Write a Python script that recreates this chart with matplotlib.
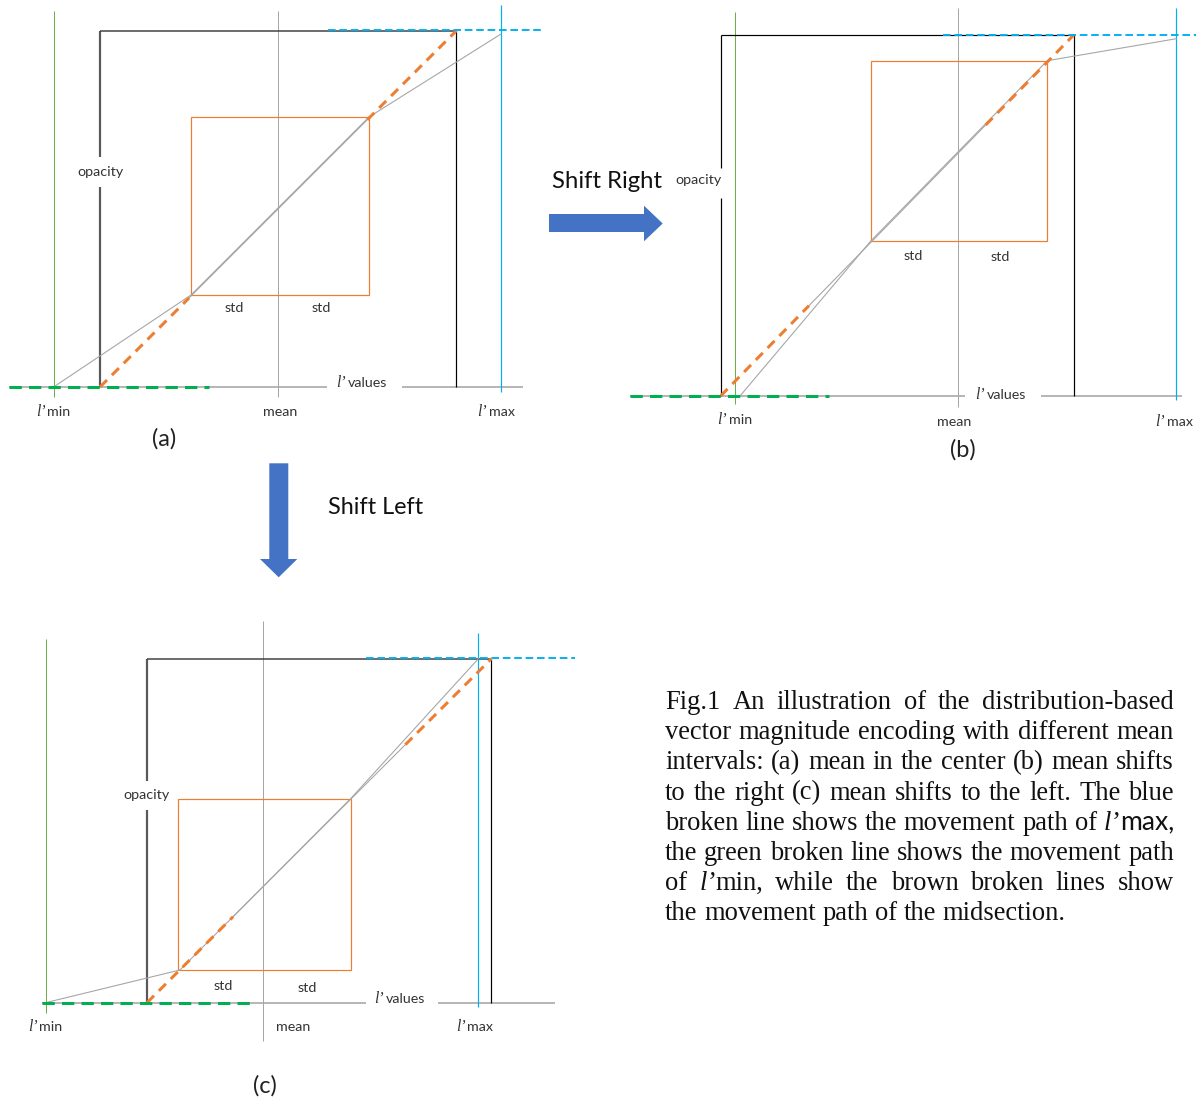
import matplotlib
matplotlib.use('Agg')
import matplotlib.pyplot as plt
from matplotlib.patches import Polygon, Rectangle

W, H = 1197, 1101
PX = 0.72  # points per pixel at dpi 100

# ---------------- data (pixel layout of the three schematic panels) ----------------
PANELS = ['(a)', '(b)', '(c)']
LMIN_X = [53.6, 735.2, 45.5]
MEAN_X = [278.0, 958.0, 263.3]
LMAX_X = [501.0, 1176.4, 478.4]
FRAME_L = [100.0, 720.6, 147.0]
FRAME_R = [456.4, 1074.0, 491.4]
FRAME_T = [30.7, 34.7, 658.7]
AXIS_Y = [387.0, 396.0, 1002.7]
BOX_L = [191.0, 870.5, 178.3]
BOX_R = [369.0, 1047.3, 350.6]
BOX_T = [117.0, 60.7, 798.7]
BOX_B = [295.0, 241.3, 970.0]

GREEN_V = [(10.7, 397.0), (11.7, 404.0), (639.0, 1012.7)]
MEAN_V = [(11.0, 397.0), (8.0, 407.0), (620.7, 1040.7)]
CYAN_V = [(5.0, 392.0), (8.0, 400.0), (633.0, 1007.0)]
AXIS_SEGS = [[(9, 327), (402, 522.5)], [(630, 965), (1040.6, 1181.8)], [(42, 365.5), (438, 555)]]
GREEN_DASH = [(9, 209), (630, 829), (42, 252.6)]
CYAN_DASH_X = [(328, 543.6), (943, 1196), (365.5, 575)]
CYAN_DASH_Y = [30.3, 34.7, 658.0]
OPACITY_GAP = [(157, 187), (168, 198), (781, 810)]

GRAY_X = [[53.6, 191, 369, 501], [740, 870.5, 1047.3, 1176.4], [45.5, 179.9, 350.6, 478.4]]
GRAY_Y = [[387, 295, 117, 34], [396, 241.3, 60.7, 38.7], [1002.7, 970, 798.7, 658.7]]
ORANGE_DASH_T = [(0.0, 0.25), (0.75, 1.0)]
GRAY_MID_T = (0.25, 0.75)

OPACITY_POS = [(100, 172), (698.5, 180), (146.4, 795)]
STD_POS = [[(234, 308), (321, 308)], [(913.7, 256), (1000, 257)], [(222.8, 986), (307, 988.3)]]
MEAN_POS = [(280, 412), (954, 422.3), (293.6, 1027)]
LMIN_POS = [(46.3, 412), (728, 420), (38.3, 1027.3)]
LMAX_POS = [(488, 412), (1165.5, 422.3), (466.5, 1027)]
LVAL_POS = [(346.5, 383), (986, 395), (385, 999.3)]
LETTER_POS = [(164, 439), (962.8, 450), (265, 1086)]

FRAME_LEFT_STYLE = [('#595959', 2.2), ('#000000', 1.2), ('#595959', 2.2)]
FRAME_TOP_STYLE = [('#404040', 1.5), ('#000000', 1.2), ('#404040', 1.5)]

SHIFT_RIGHT_TEXT = 'Shift Right'
SHIFT_LEFT_TEXT = 'Shift Left'
ARROW_RIGHT = [(549, 214), (644, 214), (644, 205.7), (662.7, 223.5), (644, 241.3), (644, 232), (549, 232)]
ARROW_DOWN = [(269.3, 463.3), (288.3, 463.3), (288.3, 559), (297.3, 559), (278.7, 577.3), (260, 559), (269.3, 559)]

CAPTION_LINES = [
    "Fig.1 An illustration of the distribution-based",
    "vector magnitude encoding with different mean",
    "intervals: (a) mean in the center (b) mean shifts",
    "to the right (c) mean shifts to the left. The blue",
    "broken line shows the movement path of l’max,",
    "the green broken line shows the movement path",
    "of l’min, while the brown broken lines show",
    "the movement path of the midsection.",
]

# ---------------- colours ----------------
GRAY = '#a6a6a6'
GREEN_V_C = '#70ad47'
GREEN_D_C = '#00b050'
ORANGE = '#ed7d31'
CYAN = '#00b0f0'
BLUE = '#4472c4'

SANS = ['Lato', 'DejaVu Sans']
SERIF = ['Liberation Serif', 'DejaVu Serif']
LABEL_FS = 10.3

fig = plt.figure(figsize=(W / 100, H / 100), dpi=100)
ax = fig.add_axes([0, 0, 1, 1])
ax.set_xlim(0, W)
ax.set_ylim(H, 0)
ax.axis('off')
renderer = fig.canvas.get_renderer()


def seg(x0, y0, x1, y1, color, lw_px, ls='-', z=2):
    ax.plot([x0, x1], [y0, y1], color=color, lw=lw_px * PX, ls=ls,
            solid_capstyle='butt', dash_capstyle='butt', zorder=z)


def lprime_label(split_x, y, word, size=10):
    ax.text(split_x - 1, y, 'l’', family=SERIF, style='italic', fontsize=size + 1,
            ha='right', va='center', color='#333333')
    ax.text(split_x + 1, y, word, family=SANS, fontsize=size, ha='left', va='center', color='#333333')


for i in range(3):
    # axis line (with gap for label)
    for (a, b) in AXIS_SEGS[i]:
        seg(a, AXIS_Y[i], b, AXIS_Y[i], GRAY, 1.6, z=1)
    # vertical guide lines
    seg(LMIN_X[i], GREEN_V[i][0], LMIN_X[i], GREEN_V[i][1], GREEN_V_C, 1.0, z=2)
    seg(MEAN_X[i], MEAN_V[i][0], MEAN_X[i], MEAN_V[i][1], GRAY, 1.0, z=2)
    seg(LMAX_X[i], CYAN_V[i][0], LMAX_X[i], CYAN_V[i][1], CYAN, 1.2, z=2)
    # frame
    lc, lw = FRAME_LEFT_STYLE[i]
    g0, g1 = OPACITY_GAP[i]
    seg(FRAME_L[i], FRAME_T[i], FRAME_L[i], g0, lc, lw, z=3)
    seg(FRAME_L[i], g1, FRAME_L[i], AXIS_Y[i], lc, lw, z=3)
    tc, tw = FRAME_TOP_STYLE[i]
    seg(FRAME_L[i], FRAME_T[i], FRAME_R[i], FRAME_T[i], tc, tw, z=3)
    seg(FRAME_R[i], FRAME_T[i], FRAME_R[i], AXIS_Y[i], '#000000', 1.2, z=3)
    # std box
    ax.add_patch(Rectangle((BOX_L[i], BOX_T[i]), BOX_R[i] - BOX_L[i], BOX_B[i] - BOX_T[i],
                           fill=False, edgecolor=ORANGE, lw=1.2 * PX, zorder=3))
    # gray mapping curve
    ax.plot(GRAY_X[i], GRAY_Y[i], color=GRAY, lw=1.1 * PX, zorder=4)
    # orange diagonal
    x0, y0, x1, y1 = FRAME_L[i], AXIS_Y[i], FRAME_R[i], FRAME_T[i]
    ta, tb = GRAY_MID_T
    seg(x0 + ta * (x1 - x0), y0 + ta * (y1 - y0), x0 + tb * (x1 - x0), y0 + tb * (y1 - y0), GRAY, 1.1, z=4)
    for (ta, tb) in ORANGE_DASH_T:
        seg(x0 + ta * (x1 - x0), y0 + ta * (y1 - y0), x0 + tb * (x1 - x0), y0 + tb * (y1 - y0),
            ORANGE, 3.0, ls=(0, (3.3, 2.3)), z=5)
    # green dashed path of l'min
    a, b = GREEN_DASH[i]
    seg(a, AXIS_Y[i], b, AXIS_Y[i], GREEN_D_C, 3.0, ls=(0, (4.1, 2.4)), z=5)
    # cyan dashed path of l'max
    a, b = CYAN_DASH_X[i]
    seg(a, CYAN_DASH_Y[i], b, CYAN_DASH_Y[i], CYAN, 1.9, ls=(0, (4.0, 2.0)), z=5)

    # labels
    ax.text(*OPACITY_POS[i], 'opacity', family=SANS, fontsize=LABEL_FS, ha='center', va='center', color='#333333')
    for p in STD_POS[i]:
        ax.text(*p, 'std', family=SANS, fontsize=LABEL_FS, ha='center', va='center', color='#333333')
    ax.text(*MEAN_POS[i], 'mean', family=SANS, fontsize=LABEL_FS, ha='center', va='center', color='#333333')
    lprime_label(*LMIN_POS[i], 'min', LABEL_FS)
    lprime_label(*LMAX_POS[i], 'max', LABEL_FS)
    lprime_label(*LVAL_POS[i], 'values', LABEL_FS)
    ax.text(*LETTER_POS[i], PANELS[i], family=SANS, fontsize=17, ha='center', va='center', color='#222222')

# arrows
ax.add_patch(Polygon(ARROW_RIGHT, closed=True, facecolor=BLUE, edgecolor='none', zorder=6))
ax.add_patch(Polygon(ARROW_DOWN, closed=True, facecolor=BLUE, edgecolor='none', zorder=6))


def fit_text(x0, x1, y, s):
    t = ax.text(0, y, s, family=SANS, fontsize=10, ha='left', va='center', color='#111111')
    w = t.get_window_extent(renderer).width
    t.set_fontsize(10 * (x1 - x0) / w)
    t.set_x(x0)


fit_text(551.7, 661.5, 182, SHIFT_RIGHT_TEXT)
fit_text(328, 423, 508, SHIFT_LEFT_TEXT)

# caption, justified
CAP_X0, CAP_X1 = 665.0, 1174.0
CAP_Y0, CAP_DY = 709.0, 30.2
CAP_FS = 19.1


def word_pieces(w):
    if w.startswith('l’max'):
        return [('l’', SERIF, 'italic'), (w[2:], SANS, 'normal')]
    if w.startswith('l’min'):
        return [('l’', SERIF, 'italic'), (w[2:], SERIF, 'normal')]
    return [(w, SERIF, 'normal')]


def piece_width(text, fam, sty):
    t = ax.text(0, 0, text, family=fam, style=sty, fontsize=CAP_FS)
    w = t.get_window_extent(renderer).width
    t.remove()
    return w


for li, line in enumerate(CAPTION_LINES):
    words = line.split(' ')
    pieces = [word_pieces(w) for w in words]
    widths = [sum(piece_width(*p) for p in ps) for ps in pieces]
    last = li == len(CAPTION_LINES) - 1
    if last or len(words) == 1:
        gap = piece_width('a a', SERIF, 'normal') - 2 * piece_width('a', SERIF, 'normal')
    else:
        gap = (CAP_X1 - CAP_X0 - sum(widths)) / (len(words) - 1)
    y = CAP_Y0 + li * CAP_DY
    x = CAP_X0
    for ps, wd in zip(pieces, widths):
        px = x
        for (txt, fam, sty) in ps:
            ax.text(px, y, txt, family=fam, style=sty, fontsize=CAP_FS, ha='left', va='baseline', color='#111111')
            px += piece_width(txt, fam, sty)
        x += wd + gap

fig.savefig('out.png', dpi=100)
